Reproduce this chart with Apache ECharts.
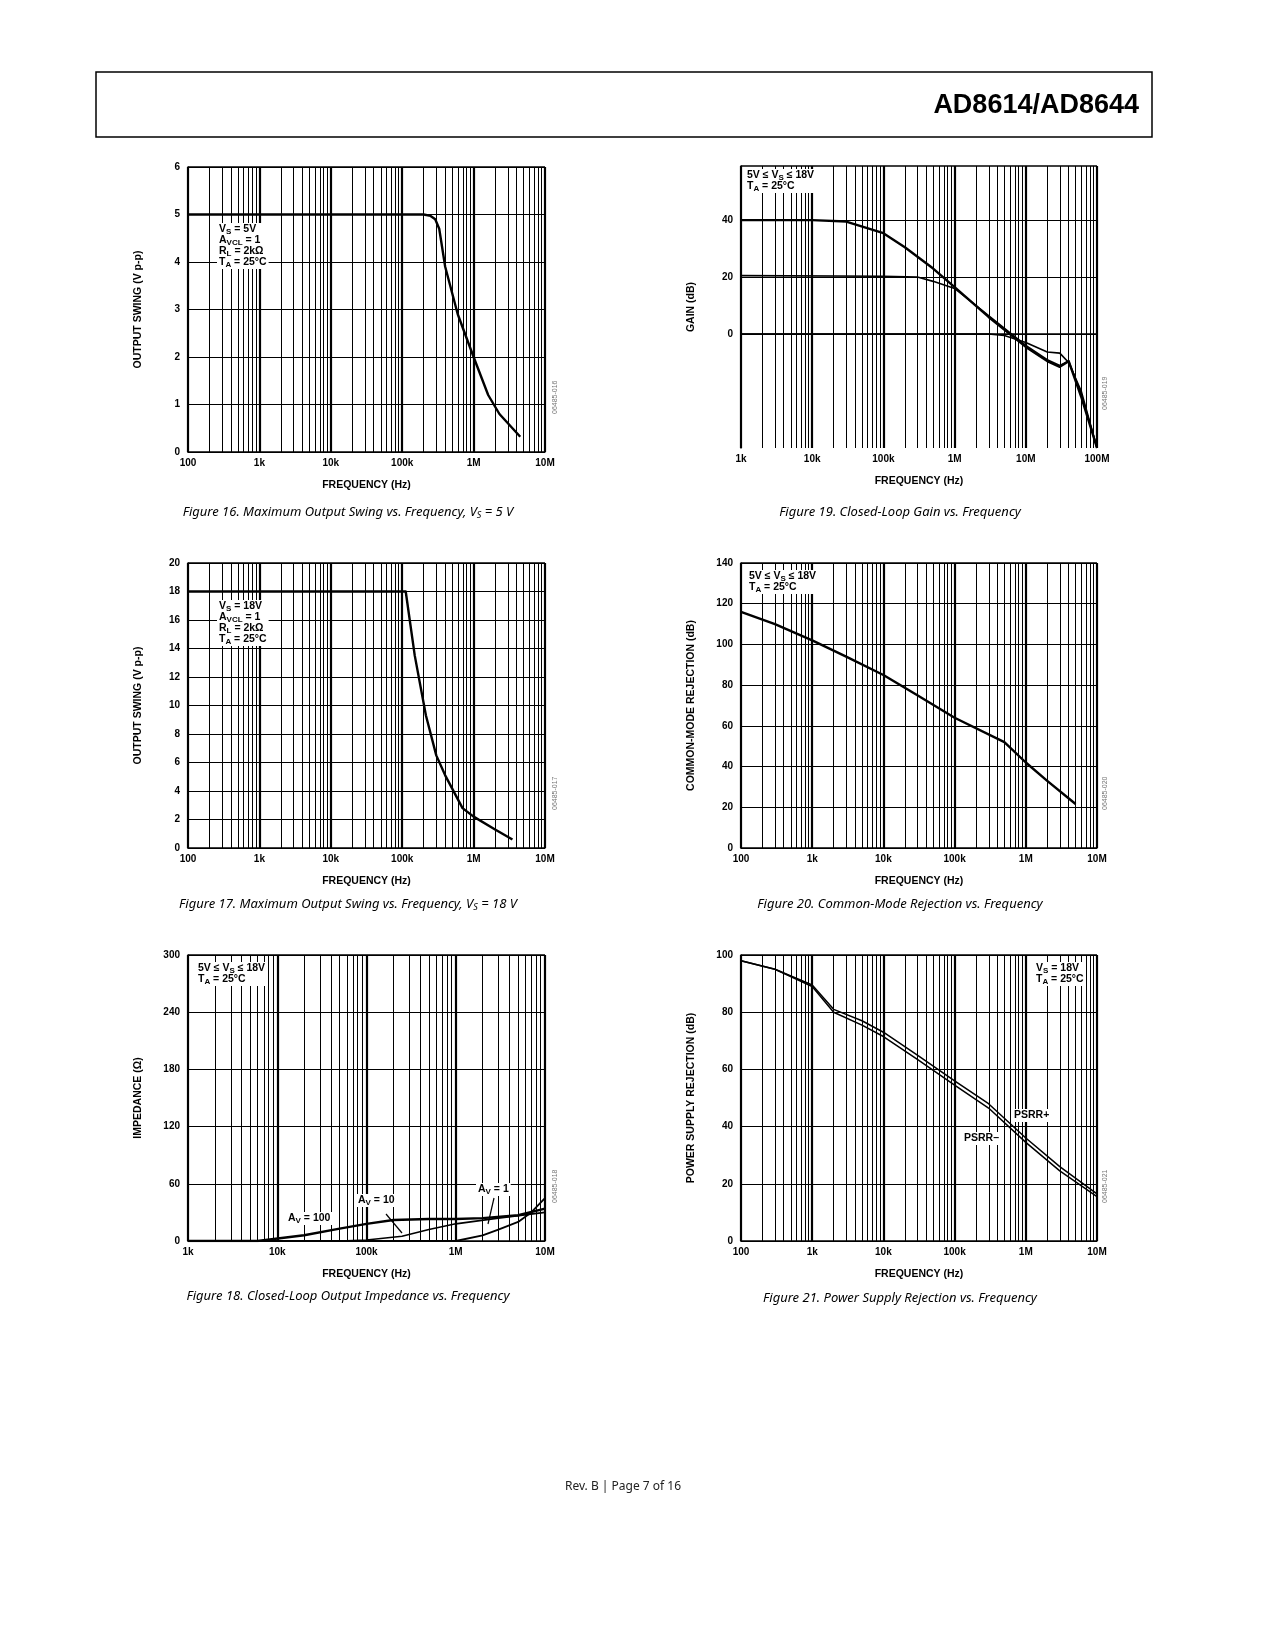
<!DOCTYPE html>
<html><head><meta charset="utf-8">
<script src="https://cdn.jsdelivr.net/npm/echarts@6/dist/echarts.min.js"></script>
<style>body{margin:0;background:#fff}#c{width:1275px;height:1650px}</style>
</head><body><div id="c"></div>
<script>
// ---- data (frequency in Hz, values in chart units) ----
const f16 = [100, 1e4, 1e5, 2e5, 2.5e5, 2.9e5, 3.3e5, 4e5, 6e5, 1e6, 1.6e6, 2.3e6, 4.5e6];
const v16 = [5.0, 5.0, 5.0, 5.0, 4.97, 4.9, 4.7, 3.9, 2.9, 2.0, 1.2, 0.8, 0.32];

const f17 = [100, 1e4, 1.12e5, 1.5e5, 2.15e5, 3e5, 4e5, 7e5, 1e6, 2e6, 3.5e6];
const v17 = [18, 18, 18, 13.5, 9.3, 6.5, 5.1, 2.8, 2.2, 1.3, 0.6];

const f18a = [1e3, 6e3, 2e4, 5e4, 1e5, 2e5, 5e5, 1e6, 2e6, 5e6, 1e7];
const z18a = [0, 0, 6, 13, 18, 22, 23, 23, 24, 27, 34];      // AV = 100
const f18b = [1e3, 5e4, 1e5, 2.5e5, 5e5, 1e6, 3e6, 1e7];
const z18b = [0, 0, 1, 5, 12, 18, 24, 30];                   // AV = 10
const f18c = [1e3, 1e6, 2e6, 3e6, 5e6, 7e6, 1e7];
const z18c = [0, 0, 6, 12, 20, 30, 45];                      // AV = 1

const f19 = [1e3, 1e4, 3e4, 1e5, 2e5, 5e5, 1e6, 3e6, 1e7, 2e7, 3e7, 4e7, 6e7, 1e8];
const g19a = [40, 40, 39.5, 35.4, 30.5, 23, 16.5, 6, -4.5, -9.5, -11.5, -9.5, -22, -40];
const f19b = [1e3, 1e5, 3e5, 5e5, 1e6, 3e6, 1e7, 2e7, 3e7, 4e7, 6e7, 1e8];
const g19b = [20.5, 20.3, 20, 18.5, 16, 6.5, -4, -9, -11, -9.5, -21, -40];
const f19c = [1e3, 1e6, 3e6, 5e6, 1e7, 2e7, 3e7, 4e7, 6e7, 1e8];
const g19c = [0, 0, 0, -0.5, -3, -6.3, -6.7, -10, -20, -40];

const f20 = [100, 300, 1e3, 3e3, 1e4, 3e4, 1e5, 5e5, 1e6, 2e6, 5e6];
const c20 = [116, 110, 102, 94, 85, 75, 64, 52, 42, 33, 21.6];

const f21 = [100, 300, 1e3, 2e3, 5e3, 1e4, 3e4, 1e5, 3e5, 1e6, 3e6, 1e7];
const p21a = [98, 95, 89.5, 81, 77, 73, 65, 56, 48, 36, 26, 16.5];   // PSRR+
const p21b = [98, 95, 89, 80, 75.5, 71.5, 63.5, 54.5, 46.5, 34.5, 24.5, 15.5]; // PSRR-

const decadeLabels = {2:'100',3:'1k',4:'10k',5:'100k',6:'1M',7:'10M',8:'100M'};

// ---- helpers ----
const FONT = 'Liberation Sans';
const pts = (fs, vs) => fs.map((f, i) => [Math.log10(f), vs[i]]);
const grids = [], xAxes = [], yAxes = [], series = [];

function panel(p) {
  const i = grids.length;
  grids.push({left: p.left, top: p.top, width: p.w, height: p.h, show: false});
  xAxes.push({
    type: 'value', gridIndex: i, min: p.xmin, max: p.xmax, interval: 1,
    name: 'FREQUENCY (Hz)', nameLocation: 'middle', nameGap: 28,
    nameTextStyle: {fontFamily: FONT, fontWeight: 'bold', fontSize: 10.5, color: '#000'},
    axisLine: {show: true, lineStyle: {color: '#000', width: 1.5}},
    axisTick: {show: false},
    axisLabel: {formatter: v => decadeLabels[Math.round(v)] || '', fontFamily: FONT, fontWeight: 'bold', fontSize: 10, color: '#000', margin: 6},
    splitLine: {show: true, lineStyle: {color: '#000', width: 2.2}}
  });
  yAxes.push({
    type: 'value', gridIndex: i, min: p.ymin, max: p.ymax, interval: p.yint,
    name: p.yname, nameLocation: 'middle', nameGap: 44, nameRotate: 90,
    nameTextStyle: {fontFamily: FONT, fontWeight: 'bold', fontSize: 10.5, color: '#000'},
    axisLine: {show: true, lineStyle: {color: '#000', width: 1.5}},
    axisTick: {show: false},
    axisLabel: {fontFamily: FONT, fontWeight: 'bold', fontSize: 10, color: '#000', margin: 8,
      formatter: v => (p.ylabFilter && !p.ylabFilter(v)) ? '' : String(v)},
    splitLine: {show: !p.hLines, lineStyle: {color: '#000', width: 1.2}}
  });
  const minor = [];
  for (let d = p.xmin; d < p.xmax; d++) for (let k = 2; k <= 9; k++) minor.push({xAxis: d + Math.log10(k)});
  minor.push({xAxis: p.xmax, lineStyle: {width: 1.5}});
  minor.push({yAxis: p.ymax, lineStyle: {width: 1.5}});
  (p.hLines || []).forEach(v => minor.push({yAxis: v, lineStyle: {width: 1.2}}));
  series.push({
    type: 'line', xAxisIndex: i, yAxisIndex: i, data: [], silent: true,
    markLine: {silent: true, symbol: 'none', label: {show: false}, animation: false,
      lineStyle: {color: '#000', width: 1, type: 'solid'}, data: minor}
  });
  p.lines.forEach(l => series.push({
    type: 'line', xAxisIndex: i, yAxisIndex: i, data: l.d, showSymbol: false, smooth: false,
    lineStyle: {color: '#000', width: l.w || 2.4, join: 'round'}, animation: false, z: 5
  }));
}

panel({left: 188, top: 167, w: 357, h: 285, xmin: 2, xmax: 7, ymin: 0, ymax: 6, yint: 1,
  yname: 'OUTPUT SWING (V p-p)', lines: [{d: pts(f16, v16)}]});
panel({left: 741, top: 166, w: 356, h: 282, xmin: 3, xmax: 8, ymin: -40, ymax: 59, yint: 20,
  ylabFilter: v => v >= 0 && v <= 40, hLines: [0, 20, 40],
  yname: 'GAIN (dB)', lines: [{d: pts(f19, g19a)}, {d: pts(f19b, g19b), w: 1.6}, {d: pts(f19c, g19c), w: 1.6}]});
panel({left: 188, top: 563, w: 357, h: 285, xmin: 2, xmax: 7, ymin: 0, ymax: 20, yint: 2,
  yname: 'OUTPUT SWING (V p-p)', lines: [{d: pts(f17, v17)}]});
panel({left: 741, top: 563, w: 356, h: 285, xmin: 2, xmax: 7, ymin: 0, ymax: 140, yint: 20,
  yname: 'COMMON-MODE REJECTION (dB)', lines: [{d: pts(f20, c20)}]});
panel({left: 188, top: 955, w: 357, h: 286, xmin: 3, xmax: 7, ymin: 0, ymax: 300, yint: 60,
  yname: 'IMPEDANCE (Ω)', lines: [{d: pts(f18a, z18a)}, {d: pts(f18b, z18b), w: 1.6}, {d: pts(f18c, z18c), w: 1.8}]});
panel({left: 741, top: 955, w: 356, h: 286, xmin: 2, xmax: 7, ymin: 0, ymax: 100, yint: 20,
  yname: 'POWER SUPPLY REJECTION (dB)', lines: [{d: pts(f21, p21a), w: 1.5}, {d: pts(f21, p21b), w: 1.5}]});

// ---- text ----
const rich = {
  a: {fontFamily: FONT, fontWeight: 'bold', fontSize: 10.5, color: '#000'},
  s: {fontFamily: FONT, fontWeight: 'bold', fontSize: 8, color: '#000', padding: [5, 0, 0, 0]},
  c: {fontFamily: 'Noto Sans', fontStyle: 'italic', fontSize: 13, color: '#222'},
  cs: {fontFamily: 'Noto Sans', fontStyle: 'italic', fontSize: 9, color: '#222', padding: [6, 0, 0, 0]}
};
const G = [];
function note(x, y, text) {
  G.push({type: 'text', left: x, top: y, z: 100, style: {text, rich, lineHeight: 11,
    backgroundColor: '#fff', padding: [1, 2, 1, 2]}});
}
function caption(cx, y, text) {
  G.push({type: 'text', x: cx, y: y, z: 100, style: {text, rich, align: 'center', verticalAlign: 'middle'}});
}
function code(x, y, t) {
  G.push({type: 'text', x: x, y: y, rotation: Math.PI / 2, z: 100,
    style: {text: t, fontFamily: FONT, fontSize: 7, fill: '#777'}});
}
note(217, 223, '{a|V}{s|S}{a| = 5V}\n{a|A}{s|VCL}{a| = 1}\n{a|R}{s|L}{a| = 2kΩ}\n{a|T}{s|A}{a| = 25°C}');
note(217, 600, '{a|V}{s|S}{a| = 18V}\n{a|A}{s|VCL}{a| = 1}\n{a|R}{s|L}{a| = 2kΩ}\n{a|T}{s|A}{a| = 25°C}');
note(196, 962, '{a|5V ≤ V}{s|S}{a| ≤ 18V}\n{a|T}{s|A}{a| = 25°C}');
note(745, 169, '{a|5V ≤ V}{s|S}{a| ≤ 18V}\n{a|T}{s|A}{a| = 25°C}');
note(747, 570, '{a|5V ≤ V}{s|S}{a| ≤ 18V}\n{a|T}{s|A}{a| = 25°C}');
note(1034, 962, '{a|V}{s|S}{a| = 18V}\n{a|T}{s|A}{a| = 25°C}');
note(286, 1212, '{a|A}{s|V}{a| = 100}');
note(356, 1194, '{a|A}{s|V}{a| = 10}');
note(476, 1183, '{a|A}{s|V}{a| = 1}');
note(1012, 1109, '{a|PSRR+}');
note(962, 1132, '{a|PSRR–}');
G.push({type: 'polyline', z: 100, shape: {points: [[386, 1214], [402, 1233]]}, style: {stroke: '#000', lineWidth: 1.2}});
G.push({type: 'polyline', z: 100, shape: {points: [[494, 1198], [488, 1224]]}, style: {stroke: '#000', lineWidth: 1.2}});
caption(348, 512, '{c|Figure 16. Maximum Output Swing vs. Frequency, V}{cs|S}{c| = 5 V}');
caption(900, 512, '{c|Figure 19. Closed-Loop Gain vs. Frequency}');
caption(348, 904, '{c|Figure 17. Maximum Output Swing vs. Frequency, V}{cs|S}{c| = 18 V}');
caption(900, 904, '{c|Figure 20. Common-Mode Rejection vs. Frequency}');
caption(348, 1296, '{c|Figure 18. Closed-Loop Output Impedance vs. Frequency}');
caption(900, 1298, '{c|Figure 21. Power Supply Rejection vs. Frequency}');
code(552, 414, '06485-016'); code(1102, 410, '06485-019');
code(552, 810, '06485-017'); code(1102, 810, '06485-020');
code(552, 1203, '06485-018'); code(1102, 1203, '06485-021');
G.push({type: 'rect', shape: {x: 96, y: 72, width: 1056, height: 65}, style: {fill: 'none', stroke: '#000', lineWidth: 1.5}});
G.push({type: 'text', x: 1139, y: 106, style: {text: 'AD8614/AD8644', fontFamily: 'Liberation Sans Narrow, Liberation Sans', fontWeight: 'bold', fontSize: 27, fill: '#000', align: 'right', verticalAlign: 'middle'}});
G.push({type: 'text', x: 623, y: 1487, style: {text: 'Rev. B | Page 7 of 16', fontFamily: 'Noto Sans', fontSize: 12, fill: '#222', align: 'center', verticalAlign: 'middle'}});

const chart = echarts.init(document.getElementById('c'), null, {renderer: 'canvas'});
chart.setOption({animation: false, grid: grids, xAxis: xAxes, yAxis: yAxes, series, graphic: G});
</script></body></html>
